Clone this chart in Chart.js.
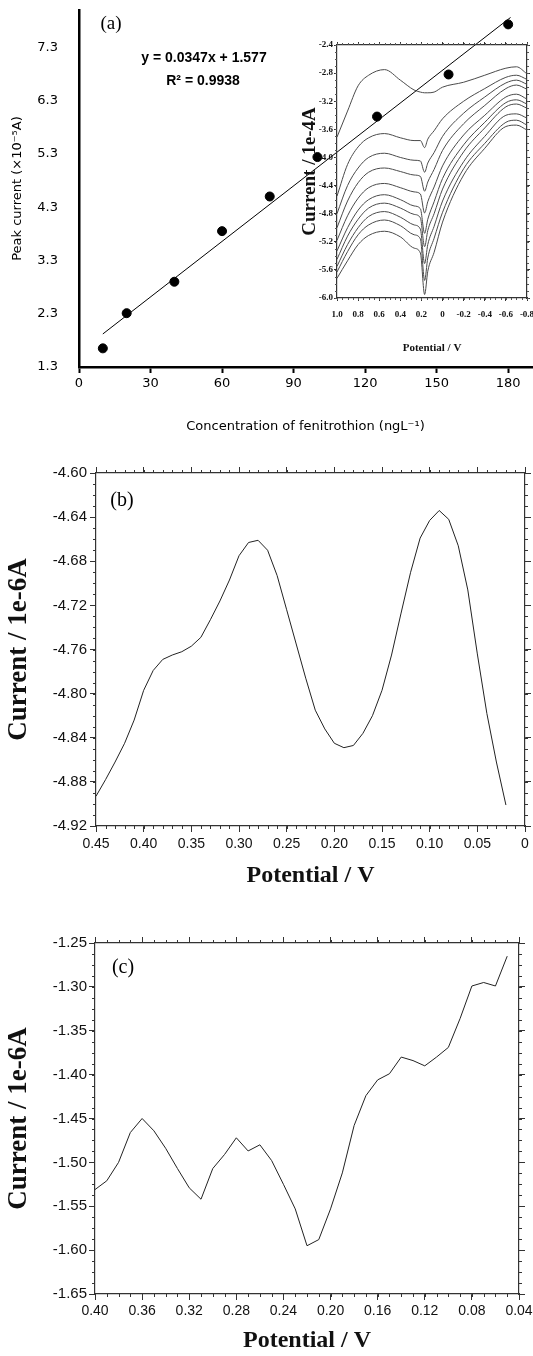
<!DOCTYPE html>
<html>
<head>
<meta charset="utf-8">
<script src="https://cdn.jsdelivr.net/npm/chart.js@4.4.0/dist/chart.umd.min.js"></script>
<style>
  body { margin: 0; background: #fff; width: 533px; height: 1356px; position: relative; overflow: hidden; }
  canvas { position: absolute; }
</style>
</head>
<body>
<canvas id="chartA" style="left:0;top:0" width="533" height="440"></canvas>
<canvas id="chartInset" style="left:290px;top:35px" width="243" height="330"></canvas>
<canvas id="chartB" style="left:0;top:440px" width="533" height="460"></canvas>
<canvas id="chartC" style="left:0;top:900px" width="533" height="456"></canvas>
<script>
// (a) calibration
const concentration = [10, 20, 40, 60, 80, 100, 125, 155, 180];
const peakCurrent = [1.65, 2.31, 2.90, 3.85, 4.50, 5.24, 6.00, 6.79, 7.73];
const fitX = [10, 181];
const fitY = [1.92, 7.86];
const ticksAX = [0, 30, 60, 90, 120, 150, 180];
const ticksAY = [1.3, 2.3, 3.3, 4.3, 5.3, 6.3, 7.3];

// (a) inset: voltammograms
const insetPotential = [1.0, 0.9, 0.8, 0.7, 0.55, 0.4, 0.27, 0.21, 0.17, 0.14, 0.08, 0.0, -0.2, -0.4, -0.6, -0.7, -0.8];
const insetCurves = [
  [-3.71, -3.34, -2.98, -2.83, -2.75, -2.90, -3.04, -3.07, -3.08, -3.08, -3.07, -3.00, -2.93, -2.83, -2.73, -2.71, -2.81],
  [-4.55, -4.10, -3.85, -3.72, -3.66, -3.72, -3.76, -3.76, -3.86, -3.74, -3.62, -3.45, -3.20, -3.02, -2.86, -2.83, -2.89],
  [-4.80, -4.40, -4.15, -4.00, -3.94, -4.00, -4.04, -4.05, -4.21, -4.08, -3.93, -3.70, -3.37, -3.14, -2.94, -2.90, -2.96],
  [-5.00, -4.62, -4.36, -4.21, -4.15, -4.20, -4.25, -4.27, -4.48, -4.35, -4.17, -3.90, -3.52, -3.26, -3.02, -2.97, -3.03],
  [-5.18, -4.83, -4.58, -4.43, -4.37, -4.43, -4.49, -4.52, -4.79, -4.63, -4.42, -4.12, -3.68, -3.40, -3.14, -3.10, -3.17],
  [-5.33, -5.00, -4.75, -4.60, -4.53, -4.60, -4.69, -4.73, -5.08, -4.88, -4.63, -4.30, -3.82, -3.50, -3.22, -3.18, -3.24],
  [-5.45, -5.12, -4.88, -4.72, -4.65, -4.72, -4.81, -4.86, -5.27, -5.04, -4.80, -4.45, -3.92, -3.58, -3.28, -3.24, -3.30],
  [-5.55, -5.24, -5.00, -4.84, -4.77, -4.85, -4.96, -5.02, -5.51, -5.24, -4.98, -4.62, -4.06, -3.70, -3.40, -3.38, -3.44],
  [-5.63, -5.34, -5.10, -4.96, -4.89, -4.97, -5.10, -5.16, -5.75, -5.43, -5.15, -4.78, -4.16, -3.80, -3.50, -3.47, -3.54],
  [-5.72, -5.47, -5.24, -5.11, -5.05, -5.13, -5.29, -5.36, -5.95, -5.62, -5.35, -4.92, -4.25, -3.87, -3.56, -3.54, -3.61]
];
const ticksInsetX = [1.0, 0.8, 0.6, 0.4, 0.2, 0, -0.2, -0.4, -0.6, -0.8];
const ticksInsetY = [-2.4, -2.8, -3.2, -3.6, -4.0, -4.4, -4.8, -5.2, -5.6, -6.0];

// (b)
const potentialB = [0.45, 0.44, 0.43, 0.42, 0.41, 0.40, 0.39, 0.38, 0.37, 0.36, 0.35, 0.34, 0.33, 0.32, 0.31,
  0.30, 0.29, 0.28, 0.27, 0.26, 0.25, 0.24, 0.23, 0.22, 0.21, 0.20, 0.19, 0.18, 0.17, 0.16,
  0.15, 0.14, 0.13, 0.12, 0.11, 0.10, 0.09, 0.08, 0.07, 0.06, 0.05, 0.04, 0.03, 0.02];
const currentB = [-4.893, -4.878, -4.862, -4.845, -4.824, -4.797, -4.779, -4.769, -4.765, -4.762, -4.757, -4.749, -4.733, -4.716, -4.697,
  -4.675, -4.663, -4.661, -4.670, -4.693, -4.724, -4.755, -4.786, -4.815, -4.832, -4.845, -4.849, -4.847, -4.836, -4.820,
  -4.797, -4.765, -4.727, -4.690, -4.659, -4.643, -4.634, -4.642, -4.666, -4.706, -4.764, -4.818, -4.862, -4.901];
const ticksBX = [0.45, 0.40, 0.35, 0.30, 0.25, 0.20, 0.15, 0.10, 0.05, 0];
const ticksBY = [-4.60, -4.64, -4.68, -4.72, -4.76, -4.80, -4.84, -4.88, -4.92];

// (c)
const potentialC = [0.40, 0.39, 0.38, 0.37, 0.36, 0.35, 0.34, 0.33, 0.32, 0.31, 0.30, 0.29, 0.28, 0.27, 0.26, 0.25, 0.24, 0.23,
  0.22, 0.21, 0.20, 0.19, 0.18, 0.17, 0.16, 0.15, 0.14, 0.13, 0.12, 0.11, 0.10, 0.09, 0.08, 0.07, 0.06, 0.05];
const currentC = [-1.531, -1.521, -1.500, -1.466, -1.450, -1.464, -1.484, -1.507, -1.529, -1.542, -1.507, -1.491, -1.472, -1.487, -1.480, -1.498, -1.525, -1.553,
  -1.595, -1.588, -1.553, -1.512, -1.458, -1.424, -1.406, -1.399, -1.380, -1.384, -1.390, -1.380, -1.369, -1.336, -1.299, -1.295, -1.299, -1.265];
const ticksCX = [0.40, 0.36, 0.32, 0.28, 0.24, 0.20, 0.16, 0.12, 0.08, 0.04];
const ticksCY = [-1.25, -1.30, -1.35, -1.40, -1.45, -1.50, -1.55, -1.60, -1.65];

Chart.defaults.font.family = "'Liberation Sans', Arial, sans-serif";
Chart.defaults.color = '#111';

// pin the axis boxes so the plot areas land where the original has them
const fixWidth = w => s => { s.width = w; s.paddingTop = 0; s.paddingBottom = 0; };
const fixHeight = h => s => { s.height = h; s.paddingLeft = 0; s.paddingRight = 0; };
const setTicks = vals => s => { s.ticks = vals.map(v => ({ value: v })); };
const pairs = (xs, ys) => xs.map((x, i) => ({ x: x, y: ys[i] }));

// short minor ticks between the labelled ones, outside the frame
const minorTicks = {
  id: 'minorTicks',
  afterDraw(chart, args, opts) {
    const ctx = chart.ctx;
    ctx.save();
    ctx.strokeStyle = opts.color || '#333';
    ctx.lineWidth = 1;
    Object.keys(opts.steps || {}).forEach(id => {
      const s = chart.scales[id];
      const step = opts.steps[id];
      const lo = Math.min(s.min, s.max), hi = Math.max(s.min, s.max);
      const n = Math.round((hi - lo) / step);
      const len = opts.len || 3;
      for (let i = 0; i <= n; i++) {
        const v = lo + i * step;
        const p = Math.round(s.getPixelForValue(v)) + 0.5;
        ctx.beginPath();
        if (s.position === 'bottom') { ctx.moveTo(p, s.top); ctx.lineTo(p, s.top + len); }
        else if (s.position === 'top') { ctx.moveTo(p, s.bottom); ctx.lineTo(p, s.bottom - len); }
        else if (s.position === 'left') { ctx.moveTo(s.right, p); ctx.lineTo(s.right - len, p); }
        else { ctx.moveTo(s.left, p); ctx.lineTo(s.left + len, p); }
        ctx.stroke();
      }
    });
    ctx.restore();
  }
};

const panelText = {
  id: 'panelText',
  afterDraw(chart, args, opts) {
    const ctx = chart.ctx;
    (opts.items || []).forEach(t => {
      ctx.save();
      ctx.font = t.font;
      ctx.fillStyle = '#000';
      ctx.textAlign = t.align || 'center';
      ctx.textBaseline = 'middle';
      ctx.fillText(t.text, t.x, t.y);
      ctx.restore();
    });
  }
};

// framed panel with outward ticks on all four sides
function frameScales(c) {
  const frame = { color: '#333', width: 1.2 };
  const grid = { drawOnChartArea: false, tickLength: c.tickLen, color: '#333', tickWidth: 1 };
  return {
    x: {
      type: 'linear', position: 'bottom', min: c.xMin, max: c.xMax, reverse: c.reverse,
      afterBuildTicks: setTicks(c.xTicks), afterFit: fixHeight(c.bottom),
      grid: grid, border: frame,
      ticks: { padding: c.xPad, maxRotation: 0, font: c.tickFontX, color: '#111', callback: c.xFmt },
      title: { display: true, text: c.xTitle, font: c.titleFontX, color: '#111', padding: { top: 0, bottom: c.xTitlePad } }
    },
    x2: {
      type: 'linear', position: 'top', min: c.xMin, max: c.xMax, reverse: c.reverse,
      afterBuildTicks: setTicks(c.xTicks), afterFit: fixHeight(c.top),
      grid: grid, border: frame, ticks: { display: false }
    },
    y: {
      type: 'linear', position: 'left', min: c.yMin, max: c.yMax,
      afterBuildTicks: setTicks(c.yTicks), afterFit: fixWidth(c.left),
      grid: grid, border: frame,
      ticks: { padding: c.yPad, font: c.tickFontY, color: '#111', callback: c.yFmt },
      title: { display: true, text: c.yTitle, font: c.titleFontY, color: '#111', padding: { top: c.yTitlePad, bottom: 0 } }
    },
    y2: {
      type: 'linear', position: 'right', min: c.yMin, max: c.yMax,
      afterBuildTicks: setTicks(c.yTicks), afterFit: fixWidth(c.right),
      grid: grid, border: frame, ticks: { display: false }
    }
  };
}

const serifBold = "'Liberation Serif', 'Times New Roman', serif";

window.addEventListener('load', function () {
  // (a) main calibration plot
  new Chart(document.getElementById('chartA').getContext('2d'), {
    type: 'scatter',
    data: {
      datasets: [{
        data: pairs(concentration, peakCurrent),
        backgroundColor: '#000', borderColor: '#000',
        pointRadius: 4.5, pointHoverRadius: 4.5, order: 0
      }, {
        type: 'line',
        data: pairs(fitX, fitY),
        borderColor: '#000', borderWidth: 1, pointRadius: 0, fill: false, order: 1
      }]
    },
    options: {
      responsive: false, animation: false,
      layout: { autoPadding: false, padding: { top: 10, right: 1, left: 0, bottom: 0 } },
      plugins: {
        legend: { display: false }, tooltip: { enabled: false },
        panelText: { items: [
          { text: '(a)', x: 111, y: 24, font: "19px " + serifBold },
          { text: 'y = 0.0347x + 1.577', x: 204, y: 58, font: "bold 14px 'Liberation Sans', Arial, sans-serif" },
          { text: 'R² = 0.9938', x: 203, y: 81, font: "bold 14px 'Liberation Sans', Arial, sans-serif" }
        ] }
      },
      scales: {
        x: {
          type: 'linear', min: 0, max: 190,
          afterBuildTicks: setTicks(ticksAX), afterFit: fixHeight(73),
          grid: { drawOnChartArea: false, tickLength: 6, tickWidth: 2, color: '#000' },
          border: { color: '#000', width: 2.5 },
          ticks: { padding: 3, maxRotation: 0, color: '#000', font: { size: 13, family: 'DejaVu Sans' } },
          title: { display: true, text: 'Concentration of fenitrothion (ngL⁻¹)', color: '#000',
                   font: { size: 13, family: 'DejaVu Sans' }, padding: { top: 0, bottom: 6 } }
        },
        y: {
          type: 'linear', min: 1.3, max: 8.0,
          afterBuildTicks: setTicks(ticksAY), afterFit: fixWidth(79),
          grid: { display: false, drawTicks: false },
          border: { color: '#000', width: 2.5 },
          ticks: { padding: 21, color: '#000', font: { size: 13, family: 'DejaVu Sans' }, callback: v => v.toFixed(1) },
          title: { display: true, text: 'Peak current (×10⁻⁵A)', color: '#000',
                   font: { size: 13, family: 'DejaVu Sans' }, padding: { top: 10, bottom: 0 } }
        }
      }
    },
    plugins: [panelText]
  });

  // (a) inset voltammograms
  new Chart(document.getElementById('chartInset').getContext('2d'), {
    type: 'line',
    data: {
      datasets: insetCurves.map(cur => ({
        data: pairs(insetPotential, cur),
        borderColor: '#4a4a4a', borderWidth: 1, pointRadius: 0, fill: false,
        cubicInterpolationMode: 'monotone'
      }))
    },
    options: {
      responsive: false, animation: false,
      layout: { autoPadding: false, padding: 0 },
      plugins: {
        legend: { display: false }, tooltip: { enabled: false },
        minorTicks: { color: '#555', len: 2, steps: { x: 0.05, x2: 0.05, y: 0.1, y2: 0.1 } }
      },
      scales: frameScales({
        xMin: -0.8, xMax: 1.0, reverse: true, xTicks: ticksInsetX,
        yMin: -6.0, yMax: -2.4, yTicks: ticksInsetY,
        left: 47, right: 6, top: 10, bottom: 67, tickLen: 3,
        xPad: 8, yPad: 1,
        tickFontX: { size: 9, weight: 'bold', family: serifBold },
        tickFontY: { size: 9, weight: 'bold', family: serifBold },
        xFmt: v => (Math.abs(v) < 1e-9 ? '0' : v.toFixed(1)),
        yFmt: v => v.toFixed(1),
        xTitle: 'Potential / V', titleFontX: { size: 11, weight: 'bold', family: serifBold }, xTitlePad: 10,
        yTitle: 'Current / 1e-4A', titleFontY: { size: 19, weight: 'bold', family: serifBold }, yTitlePad: 9
      })
    },
    plugins: [minorTicks]
  });

  // (b)
  new Chart(document.getElementById('chartB').getContext('2d'), {
    type: 'line',
    data: {
      datasets: [{
        data: pairs(potentialB, currentB),
        borderColor: '#222', borderWidth: 1, pointRadius: 0, fill: false, tension: 0
      }]
    },
    options: {
      responsive: false, animation: false,
      layout: { autoPadding: false, padding: 0 },
      plugins: {
        legend: { display: false }, tooltip: { enabled: false },
        minorTicks: { color: '#333', len: 3, steps: { x: 0.01, x2: 0.01, y: 0.01, y2: 0.01 } },
        panelText: { items: [{ text: '(b)', x: 122, y: 61, font: "20px " + serifBold }] }
      },
      scales: frameScales({
        xMin: 0, xMax: 0.45, reverse: true, xTicks: ticksBX,
        yMin: -4.92, yMax: -4.60, yTicks: ticksBY,
        left: 96, right: 8, top: 33, bottom: 74, tickLen: 6,
        xPad: 4, yPad: 3,
        tickFontX: { size: 14 }, tickFontY: { size: 15 },
        xFmt: v => (Math.abs(v) < 1e-9 ? '0' : v.toFixed(2)),
        yFmt: v => v.toFixed(2),
        xTitle: 'Potential / V', titleFontX: { size: 24, weight: 'bold', family: serifBold }, xTitlePad: 10,
        yTitle: 'Current / 1e-6A', titleFontY: { size: 27, weight: 'bold', family: serifBold }, yTitlePad: 3
      })
    },
    plugins: [minorTicks, panelText]
  });

  // (c)
  new Chart(document.getElementById('chartC').getContext('2d'), {
    type: 'line',
    data: {
      datasets: [{
        data: pairs(potentialC, currentC),
        borderColor: '#222', borderWidth: 1, pointRadius: 0, fill: false, tension: 0
      }]
    },
    options: {
      responsive: false, animation: false,
      layout: { autoPadding: false, padding: 0 },
      plugins: {
        legend: { display: false }, tooltip: { enabled: false },
        minorTicks: { color: '#333', len: 3, steps: { x: 0.01, x2: 0.01, y: 0.0125, y2: 0.0125 } },
        panelText: { items: [{ text: '(c)', x: 123, y: 68, font: "20px " + serifBold }] }
      },
      scales: frameScales({
        xMin: 0.04, xMax: 0.40, reverse: true, xTicks: ticksCX,
        yMin: -1.65, yMax: -1.25, yTicks: ticksCY,
        left: 95, right: 14, top: 43, bottom: 62, tickLen: 6,
        xPad: 3, yPad: 2,
        tickFontX: { size: 14 }, tickFontY: { size: 15 },
        xFmt: v => v.toFixed(2),
        yFmt: v => v.toFixed(2),
        xTitle: 'Potential / V', titleFontX: { size: 24, weight: 'bold', family: serifBold }, xTitlePad: 1,
        yTitle: 'Current / 1e-6A', titleFontY: { size: 27, weight: 'bold', family: serifBold }, yTitlePad: 3
      })
    },
    plugins: [minorTicks, panelText]
  });
});
</script>
</body>
</html>
